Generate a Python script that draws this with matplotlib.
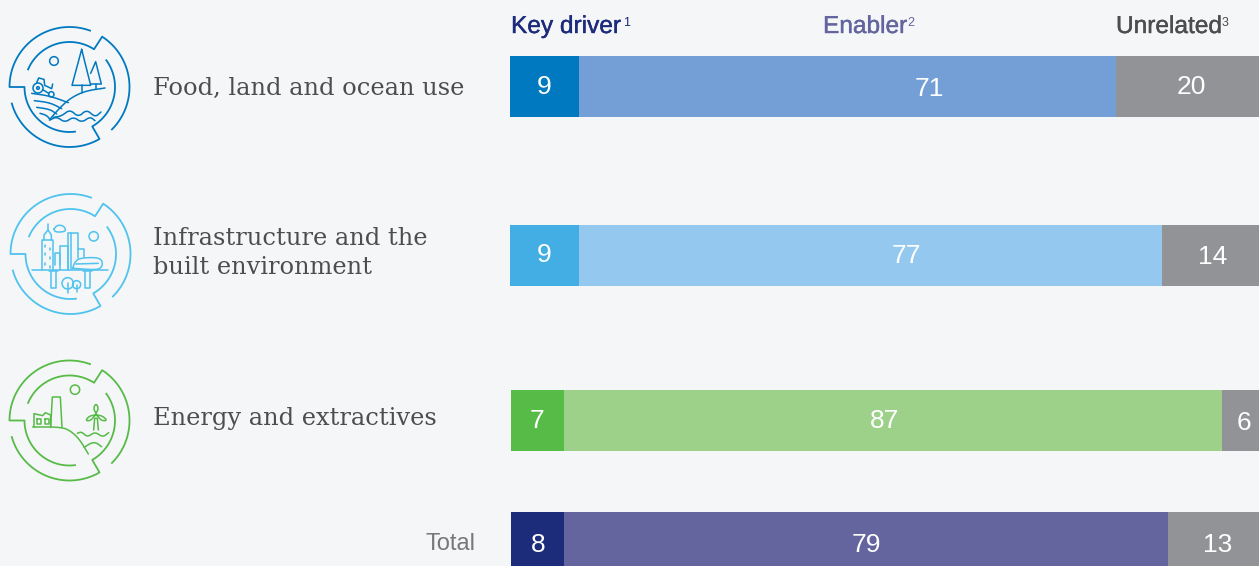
import numpy as np
import matplotlib.pyplot as plt
import matplotlib.patheffects as pe

categories = ["Food, land and ocean use", "Infrastructure and the\nbuilt environment",
              "Energy and extractives", "Total"]
key_driver = [9.1, 9.1, 7.0, 7.0]
enabler = [70.9, 77.0, 86.9, 79.8]
unrelated = [20, 14, 6, 13]
key_labels = ["9", "9", "7", "8"]
enabler_labels = ["71", "77", "87", "79"]
unrelated_labels = ["20", "14", "6", "13"]

key_colors = ["#0079c1", "#42aee3", "#57bb47", "#1c2b7a"]
enabler_colors = ["#749fd6", "#94c8ee", "#9dd089", "#64649f"]
grey = "#929396"
bg = "#f4f6f8"

row_y = [86.5, 255.5, 420.5, 542.5]
row_start = [0, 0, 0.13, 0.13]
enabler_shift = [82, 36, -8, 0]   # labels are not centred in the reference
key_x = [544, 544, 537, 538]
key_y = [86.5, 255.5, 421.5, 544.5]
enabler_y = [89.5, 256, 421.5, 544.5]
unrelated_x = [1191, 1213, 1244, 1218]
unrelated_y = [87.5, 257.5, 423.5, 544.5]

plt.rcParams['font.family'] = ['Liberation Sans', 'DejaVu Sans']

fig = plt.figure(figsize=(12.59, 5.66), dpi=100, facecolor=bg)

# bars, 7.57 px per percentage point, the right end is cut by the picture edge
ax_bar = fig.add_axes([510 / 1259, 0, 749 / 1259, 1])
ax_bar.set_xlim(0, 749 / 7.57)
ax_bar.set_ylim(566, 0)
ax_bar.axis('off')

# overlay in pixels for icons and text
ax = fig.add_axes([0, 0, 1, 1], zorder=3)
ax.set_xlim(0, 1259)
ax.set_ylim(566, 0)
ax.axis('off')

left = np.array(row_start)
ax_bar.barh(row_y, key_driver, left=left, height=61, color=key_colors)
left = left + np.array(key_driver)
ax_bar.barh(row_y, enabler, left=left, height=61, color=enabler_colors)
enabler_mid = left + np.array(enabler) / 2
left = left + np.array(enabler)
ax_bar.barh(row_y, unrelated, left=left, height=61, color=grey)

for i, y in enumerate(row_y):
    ax.text(key_x[i], key_y[i], key_labels[i], color="white", fontsize=19, ha='center', va='center')
    ax.text(unrelated_x[i], unrelated_y[i], unrelated_labels[i], color="white", fontsize=19,
            ha='center', va='center')
    mid_px = 510 + enabler_mid[i] * 7.57
    ax.text(mid_px + enabler_shift[i], enabler_y[i], enabler_labels[i], color="white", fontsize=19,
            ha='center', va='center')

# headers
for x, name, col, sup_x, sup in [(511, "Key driver", "#1c2b7a", 623, "1"),
                                 (823, "Enabler", "#64649f", 907, "2"),
                                 (1116, "Unrelated", "#4d4d4f", 1222, "3")]:
    ax.text(x, 27, name, color=col, fontsize=17.6, va='center',
            path_effects=[pe.withStroke(linewidth=0.3, foreground=col)])
    ax.text(sup_x, 23, sup, color=col, fontsize=9, va='center')

# row names
label_kw = dict(color="#4d4d4f", fontsize=17.4, family='DejaVu Serif', va='center')
ax.text(153, 88, categories[0], **label_kw)
ax.text(153, 253, categories[1], linespacing=1.32, **label_kw)
ax.text(153, 418, categories[2], **label_kw)
ax.text(475.5, 543.5, categories[3], color="#77787a", fontsize=17, ha='right', va='center')


def arc(r, a0, a1):
    a = np.radians(np.linspace(a0, a1, 60))
    return r * np.cos(a), -r * np.sin(a)


def icon_ring(cx, cy, color):
    # three strokes of the broken ring, radii in px
    x1, y1 = arc(60, 70, 180)
    x2, y2 = arc(45, 180, 277)
    ax.plot(cx + np.r_[x1, x2], cy + np.r_[y1, y2], color=color, lw=1.3)
    x1, y1 = arc(45, 157, 57)
    x2, y2 = arc(60, 57, -45)
    ax.plot(cx + np.r_[x1, x2], cy + np.r_[y1, y2], color=color, lw=1.3)
    x1, y1 = arc(45.5, 36, -60)
    x2, y2 = arc(60, -60, -164)
    ax.plot(cx + np.r_[x1, x2], cy + np.r_[y1, y2], color=color, lw=1.3)


def stroke(ox, oy, pts, color, lw=1.1):
    p = np.array(pts) / 3
    ax.plot(ox + p[:, 0], oy + p[:, 1], color=color, lw=lw, solid_capstyle='round')


def curve(ox, oy, pts, color, lw=1.1):
    # corner cutting to round off a stroke
    p = np.array(pts, dtype=float)
    for _ in range(3):
        q = 0.75 * p[:-1] + 0.25 * p[1:]
        r = 0.25 * p[:-1] + 0.75 * p[1:]
        p = np.vstack([p[0], np.column_stack([q, r]).reshape(-1, 2), p[-1]])
    stroke(ox, oy, p, color, lw)


def circle(ox, oy, x, y, r, color, lw=1.1):
    ax.add_patch(plt.Circle((ox + x / 3, oy + y / 3), r / 3, fill=False, ec=color, lw=lw))


# food icon
c = "#0079c1"
icon_ring(69.5, 87, c)
circle(0, 10, 162, 153, 13, c)
stroke(0, 10, [(245, 118), (216, 226), (272, 226), (245, 118)], c)
stroke(0, 10, [(272, 190), (287, 155), (304, 222), (272, 222)], c)
stroke(0, 10, [(245, 226), (245, 248)], c)
stroke(0, 10, [(287, 222), (287, 236)], c)
curve(0, 10, [(148, 330), (175, 298), (210, 265), (255, 243), (315, 234)], c)
curve(0, 10, [(95, 250), (150, 258), (205, 278)], c)
curve(0, 10, [(103, 272), (150, 278), (185, 296)], c)
curve(0, 10, [(110, 292), (150, 298), (170, 312)], c)
curve(0, 10, [(120, 310), (140, 316), (150, 328)], c)
circle(0, 10, 114, 234, 15, c)
circle(0, 10, 114, 234, 4, c)
circle(0, 10, 154, 253, 8, c)
stroke(0, 10, [(110, 218), (116, 204), (132, 208), (134, 226), (155, 236), (158, 222)], c)
stroke(0, 10, [(130, 240), (146, 250)], c)
curve(0, 10, [(160, 322), (185, 318), (210, 298), (235, 322), (260, 298), (285, 322), (303, 306)], c)
curve(0, 10, [(150, 330), (170, 320), (195, 338), (220, 320), (245, 338), (270, 320), (285, 332)], c)

# infrastructure icon
c = "#4fc3ee"
icon_ring(70.5, 254, c)
circle(0, 180, 281, 169, 14, c)
stroke(0, 180, [(96, 271), (325, 271)], c)
stroke(0, 180, [(126, 271), (126, 180), (160, 180), (160, 271)], c)
stroke(0, 180, [(132, 180), (132, 165), (144, 150), (154, 165), (154, 180)], c)
stroke(0, 180, [(144, 150), (144, 132)], c)
for px, py in [(136, 195), (150, 205), (136, 220), (150, 232), (136, 248), (150, 258)]:
    stroke(0, 180, [(px, py), (px, py + 6)], c)
stroke(0, 180, [(165, 255), (165, 220), (181, 220), (181, 255)], c)
stroke(0, 180, [(181, 271), (181, 197), (203, 197), (203, 271)], c)
stroke(0, 180, [(203, 271), (203, 158), (235, 158), (235, 235)], c)
stroke(0, 180, [(214, 160), (214, 268)], c)
stroke(0, 180, [(235, 208), (252, 208), (252, 232)], c)
curve(0, 180, [(218, 265), (225, 245), (240, 234), (295, 232), (308, 245), (305, 262),
               (290, 270), (218, 265)], c)
stroke(0, 180, [(228, 252), (295, 250)], c)
stroke(0, 180, [(154, 275), (154, 323), (168, 323), (168, 275)], c)
stroke(0, 180, [(256, 275), (256, 323), (270, 323), (270, 275)], c)
stroke(0, 180, [(148, 272), (174, 272)], c)
stroke(0, 180, [(250, 272), (276, 272)], c)
circle(0, 180, 203, 310, 17, c)
circle(0, 180, 230, 314, 12, c)
stroke(0, 180, [(203, 310), (203, 340)], c)
stroke(0, 180, [(230, 314), (230, 335)], c)
curve(0, 180, [(162, 147), (172, 135), (190, 137), (198, 150), (190, 156), (165, 156), (162, 147)], c)

# energy icon
c = "#57bb47"
icon_ring(69.5, 420.5, c)
circle(0, 350, 225, 119, 14, c)
curve(0, 350, [(98, 231), (186, 231), (215, 245), (240, 270), (265, 312)], c)
stroke(0, 350, [(102, 231), (102, 191), (128, 197), (136, 188), (152, 195), (152, 231)], c)
stroke(0, 350, [(152, 231), (157, 141), (181, 141), (186, 231)], c)
stroke(0, 350, [(112, 206), (122, 206), (122, 222), (112, 222), (112, 206)], c)
stroke(0, 350, [(136, 206), (147, 206), (147, 222), (136, 222), (136, 206)], c)
stroke(0, 350, [(281, 240), (284, 205), (292, 205), (295, 240)], c)
curve(0, 350, [(288, 190), (280, 175), (288, 160), (296, 175), (288, 190)], c)
curve(0, 350, [(286, 195), (268, 198), (256, 212), (272, 212), (286, 195)], c)
curve(0, 350, [(290, 195), (308, 198), (322, 212), (304, 212), (290, 195)], c)
curve(0, 350, [(232, 250), (245, 245), (262, 262), (285, 245), (308, 262), (326, 248)], c)
curve(0, 350, [(252, 292), (282, 274), (305, 290)], c)

fig.savefig("out.png", dpi=100, facecolor=bg)
